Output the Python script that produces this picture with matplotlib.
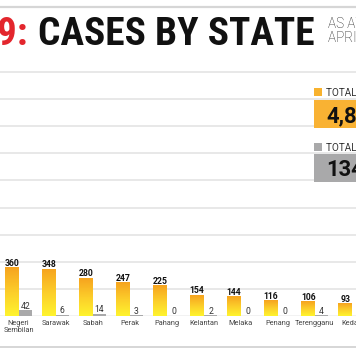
import numpy as np
import matplotlib
matplotlib.use("Agg")
import matplotlib.pyplot as plt
from matplotlib import font_manager as fm
from matplotlib.colors import LinearSegmentedColormap
from matplotlib.patches import Rectangle

# ---------------- data ----------------
states = ["Negeri\nSembilan", "Sarawak", "Sabah", "Perak", "Pahang",
          "Kelantan", "Melaka", "Penang", "Terengganu", "Kedah"]
cases = [360, 348, 280, 247, 225, 154, 144, 116, 106, 93]
second = [42, 6, 14, 3, 0, 2, 0, 0, 4]          # grey series (Kedah's value is off-frame)
total_cases = "4,817"
total_second = "134"
legend_labels = ["TOTAL CASES", "TOTAL DEATHS"]
title_prefix = "COVID-19:"
title_main = "CASES BY STATE"
date_line1 = "AS AT"
date_line2 = "APRIL 14"
grid_ticks = [200, 400, 600, 800, 1000, 1200, 1400, 1600, 1800]

# ---------------- figure ----------------
W, H, DPI = 356, 364, 100
fig = plt.figure(figsize=(W / DPI, H / DPI), dpi=DPI)
fig.patch.set_facecolor("white")

def fx(px):
    return px / W

def fy(py):
    return 1 - py / H

def pt(px):
    return px * 72 / DPI

names = {f.name for f in fm.fontManager.ttflist}
if "Roboto Condensed" in names:
    title_font = "Roboto Condensed"
elif "Liberation Sans Narrow" in names:
    title_font = "Liberation Sans Narrow"
else:
    title_font = "Roboto"

# ---------------- axes ----------------
base_px, top_px = 315.7, 60.0
px_per_200 = 27.05
ax = fig.add_axes([0, fy(base_px), 1, (base_px - top_px) / H])
ax.set_facecolor("none")
ymax = (base_px - top_px) * 200 / px_per_200
unit_px = 37.05
xmin = -0.5
xmax = xmin + W / unit_px

for s in ax.spines.values():
    s.set_visible(False)
ax.set_yticks(grid_ticks)
ax.yaxis.grid(True, color="#E4E4E4", lw=1.2)
ax.tick_params(axis="y", length=0, labelleft=False)
ax.set_axisbelow(True)
ax.axhline(0, color="#BDBDBD", lw=1.0, zorder=1)

bw = 0.365
x = np.arange(len(states))
cmap = LinearSegmentedColormap.from_list("yo", ["#FFF42E", "#FCCD2A", "#F6A31F"])
grad = np.linspace(0, 1, 256).reshape(-1, 1)

bars = ax.bar(x - bw / 2, cases, width=bw, color="none", edgecolor="none", zorder=2)
for b in bars:
    x0, h = b.get_x(), b.get_height()
    im = ax.imshow(grad, extent=[x0, x0 + b.get_width(), 0, h], origin="lower",
                   cmap=cmap, aspect="auto", zorder=2, interpolation="bilinear")
    im.set_clip_path(b)

xs2 = x[:len(second)] + bw / 2
ax.bar(xs2, second, width=bw, color="#A9A9AA", edgecolor="none", zorder=2)

for xi, v in zip(x - bw / 2, cases):
    ax.annotate(f"{v}", (xi, v), xytext=(0, 1.0), textcoords="offset points",
                ha="center", va="baseline", fontsize=pt(8.6), fontweight="bold",
                family="Roboto", color="#111111", zorder=3)
for xi, v in zip(xs2, second):
    ax.annotate(f"{v}", (xi, v), xytext=(0, 1.0), textcoords="offset points",
                ha="center", va="baseline", fontsize=pt(8.6),
                family="Roboto", color="#333333", zorder=3)

ax.set_xticks(x)
ax.set_xticklabels(states, fontsize=pt(7.4), family="Roboto", color="#444444",
                   linespacing=1.05)
ax.tick_params(axis="x", length=0, pad=pt(4.0))
ax.set_xlim(xmin, xmax)
ax.set_ylim(0, ymax)

# ---------------- decorations ----------------
fig.add_artist(plt.Line2D([0, 1], [fy(7), fy(7)], color="#D6D6D6", lw=1.6,
                          transform=fig.transFigure))
fig.add_artist(plt.Line2D([0, 1], [fy(347), fy(347)], color="#D6D6D6", lw=1.4,
                          transform=fig.transFigure))

# title: fit width of main title to 277 px
t_main = fig.text(fx(38), fy(45), title_main, fontsize=pt(40), fontweight="bold",
                  family=title_font, color="#111111", ha="left", va="baseline")
fig.canvas.draw()
r = fig.canvas.get_renderer()
wpx = t_main.get_window_extent(r).width
size_px = 40 * 277 / wpx
t_main.set_fontsize(pt(size_px))
fig.text(fx(27.5), fy(45), title_prefix, fontsize=pt(size_px), fontweight="bold",
         family=title_font, color="#E3262D", ha="right", va="baseline")

fig.text(fx(328), fy(28), date_line1, fontsize=pt(13.5), fontweight="light",
         family="Roboto", color="#1A1A1A", ha="left", va="baseline")
fig.text(fx(328), fy(42), date_line2, fontsize=pt(13.5), fontweight="light",
         family="Roboto", color="#1A1A1A", ha="left", va="baseline")

# legend boxes
fig.add_artist(Rectangle((fx(314), fy(96)), fx(8), 8 / H, transform=fig.transFigure,
                         facecolor="#F8B22E", edgecolor="none"))
fig.text(fx(326), fy(96), legend_labels[0], fontsize=pt(10), family="Roboto",
         color="#333333", ha="left", va="baseline")
fig.add_artist(Rectangle((fx(314), fy(128)), fx(60), 28 / H, transform=fig.transFigure,
                         facecolor="#F9B233", edgecolor="none"))
fig.text(fx(326), fy(122), total_cases, fontsize=pt(22), fontweight="bold",
         family="Roboto", color="#111111", ha="left", va="baseline")

fig.add_artist(Rectangle((fx(314), fy(151)), fx(8), 8 / H, transform=fig.transFigure,
                         facecolor="#A9A9AA", edgecolor="none"))
fig.text(fx(326), fy(151), legend_labels[1], fontsize=pt(10), family="Roboto",
         color="#333333", ha="left", va="baseline")
fig.add_artist(Rectangle((fx(314), fy(182)), fx(60), 28 / H, transform=fig.transFigure,
                         facecolor="#A9A9AA", edgecolor="none"))
fig.text(fx(326), fy(176), total_second, fontsize=pt(22), fontweight="bold",
         family="Roboto", color="#111111", ha="left", va="baseline")

fig.savefig("out.png", dpi=DPI, facecolor="white")
